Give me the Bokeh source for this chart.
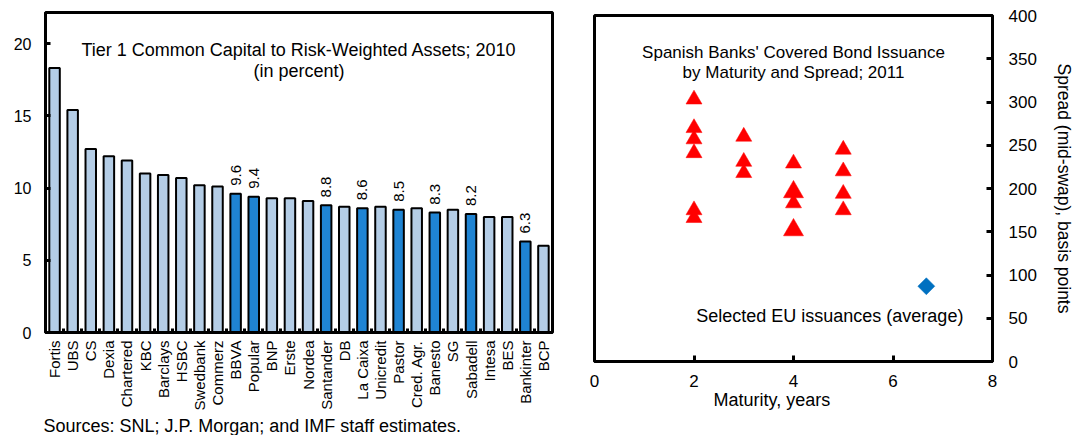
import math
from bokeh.plotting import figure
from bokeh.layouts import row, column
from bokeh.models import FixedTicker, Label, Range1d, ColumnDataSource, Title
from bokeh.embed import file_html
from bokeh.resources import INLINE
from bokeh.core.properties import value

# ---------------- data ----------------
banks = ["Fortis", "UBS", "CS", "Dexia", "Chartered", "KBC", "Barclays", "HSBC",
         "Swedbank", "Commerz", "BBVA", "Popular", "BNP", "Erste", "Nordea",
         "Santander", "DB", "La Caixa", "Unicredit", "Pastor", "Cred. Agr.",
         "Banesto", "SG", "Sabadell", "Intesa", "BES", "Bankinter", "BCP"]
tier1 = [18.3, 15.4, 12.7, 12.2, 11.9, 11.0, 10.9, 10.7,
         10.2, 10.1, 9.6, 9.4, 9.3, 9.3, 9.1,
         8.8, 8.7, 8.6, 8.7, 8.5, 8.6,
         8.3, 8.5, 8.2, 8.0, 8.0, 6.3, 6.0]
spanish_banks = ["BBVA", "Popular", "Santander", "La Caixa", "Pastor",
                 "Banesto", "Sabadell", "Bankinter"]
left_yticks = [0, 5, 10, 15, 20]

# Spanish covered bond issuance: maturity (years) and spread (bp)
issue_maturity = [2, 2, 2, 2, 2, 2, 3, 3, 3, 4, 4, 5, 5, 5, 5]
issue_spread = [303, 270, 257, 241, 175, 166, 260, 231, 218, 229, 183, 245, 220, 194, 175]
large_issue_maturity = [4, 4]
large_issue_spread = [196, 152]
eu_maturity = [6.67]
eu_spread = [87]
right_xticks = [0, 2, 4, 6, 8]
right_yticks = [0, 50, 100, 150, 200, 250, 300, 350, 400]

FONT = "Liberation Sans"
LIGHT = "#b4cde6"
DARK = "#1f84d3"

# ---------------- left chart ----------------
n = len(banks)
xc = [i + 0.5 for i in range(n)]
colors = [DARK if b in spanish_banks else LIGHT for b in banks]
src = ColumnDataSource(dict(x=xc, top=tier1, color=colors))

p1 = figure(width=570, height=435, x_range=Range1d(0, n), y_range=Range1d(0, 22.15),
            output_backend="svg", toolbar_location=None,
            min_border_left=45, min_border_right=18, min_border_top=12, min_border_bottom=103)
p1.xgrid.visible = False
p1.ygrid.visible = False
p1.outline_line_color = "black"
p1.outline_line_width = 3
p1.outline_line_alpha = 1

p1.vbar(x="x", top="top", bottom=0, width=0.58, fill_color="color",
        line_color="black", line_width=2, source=src)

sp_x = [xc[i] for i, b in enumerate(banks) if b in spanish_banks]
sp_v = [tier1[i] for i, b in enumerate(banks) if b in spanish_banks]
p1.text(x=sp_x, y=[v + 0.55 for v in sp_v], text=[f"{v:.1f}" for v in sp_v],
        angle=math.pi / 2, text_align="left", text_baseline="middle",
        text_font=value(FONT), text_font_size="15px", text_color="black")

ya = p1.yaxis[0]
ya.ticker = FixedTicker(ticks=left_yticks)
ya.major_tick_in = 5
ya.major_tick_out = 0
ya.major_tick_line_width = 3
ya.minor_tick_line_color = None
ya.axis_line_width = 3
ya.major_label_standoff = 14
ya.major_label_text_font = FONT
ya.major_label_text_font_size = "16px"
ya.major_label_text_color = "black"

xa = p1.xaxis[0]
xa.ticker = FixedTicker(ticks=xc, minor_ticks=list(range(1, n)))
xa.major_label_overrides = {x: b for x, b in zip(xc, banks)}
xa.major_label_orientation = math.pi / 2
xa.major_tick_line_color = None
xa.major_tick_in = 0
xa.major_tick_out = 0
xa.minor_tick_in = 4
xa.minor_tick_out = 0
xa.minor_tick_line_width = 3
xa.minor_tick_line_color = "black"
xa.axis_line_width = 3
xa.major_label_standoff = 8
xa.major_label_text_font = FONT
xa.major_label_text_font_size = "15px"
xa.major_label_text_color = "black"

p1.add_layout(Label(x=n / 2, y=19.52, text="Tier 1 Common Capital to Risk-Weighted Assets; 2010",
                    text_align="center", text_baseline="alphabetic",
                    text_font=FONT, text_font_size="18px", text_color="black"))
p1.add_layout(Label(x=n / 2, y=18.1, text="(in percent)",
                    text_align="center", text_baseline="alphabetic",
                    text_font=FONT, text_font_size="18px", text_color="black"))
p1.add_layout(Title(text="Sources: SNL; J.P. Morgan; and IMF staff estimates.",
                    align="left", offset=-2, standoff=0, vertical_align="bottom",
                    text_font=FONT, text_font_size="18px", text_font_style="normal",
                    text_color="black"), "below")

# ---------------- right chart ----------------
p2 = figure(width=506, height=435, x_range=Range1d(0, 8), y_range=Range1d(0, 400),
            y_axis_location="right", output_backend="svg", toolbar_location=None,
            min_border_left=24, min_border_right=80, min_border_top=15, min_border_bottom=74)
p2.xgrid.visible = False
p2.ygrid.visible = False
p2.outline_line_color = "black"
p2.outline_line_width = 3
p2.outline_line_alpha = 1

p2.scatter(x=issue_maturity, y=issue_spread, marker="triangle", size=16,
           fill_color="#ff0000", line_color="#ff0000", line_width=0.5)
p2.scatter(x=large_issue_maturity, y=large_issue_spread, marker="triangle", size=20,
           fill_color="#ff0000", line_color="#ff0000", line_width=0.5)
p2.scatter(x=eu_maturity, y=eu_spread, marker="square", size=12, angle=math.pi / 4,
           fill_color="#0070c0", line_color="#0070c0", line_width=0.5)

xb = p2.xaxis[0]
xb.ticker = FixedTicker(ticks=right_xticks)
xb.major_tick_in = 6
xb.major_tick_out = 0
xb.major_tick_line_width = 3
xb.minor_tick_line_color = None
xb.axis_line_width = 3
xb.major_label_standoff = 13
xb.major_label_text_font = FONT
xb.major_label_text_font_size = "17px"
xb.major_label_text_color = "black"

# x-axis title, placed left of centre as in the original
p2.add_layout(Title(text="Maturity, years", align="left", offset=119, standoff=0,
                    vertical_align="top",
                    text_font=FONT, text_font_size="18px", text_font_style="normal",
                    text_color="black"), "below")

yb = p2.yaxis[0]
yb.ticker = FixedTicker(ticks=right_yticks)
yb.major_tick_in = 6
yb.major_tick_out = 0
yb.major_tick_line_width = 3
yb.minor_tick_line_color = None
yb.axis_line_width = 3
yb.major_label_standoff = 16
yb.major_label_text_font = FONT
yb.major_label_text_font_size = "17px"
yb.major_label_text_color = "black"
yb.axis_label = "Spread (mid-swap), basis points"
yb.axis_label_standoff = 14
yb.axis_label_text_font = FONT
yb.axis_label_text_font_size = "17.5px"
yb.axis_label_text_font_style = "normal"
yb.axis_label_text_color = "black"

p2.add_layout(Label(x=4, y=357, text="Spanish Banks' Covered Bond Issuance",
                    text_align="center", text_baseline="alphabetic",
                    text_font=FONT, text_font_size="17px", text_color="black"))
p2.add_layout(Label(x=4, y=334, text="by Maturity and Spread; 2011",
                    text_align="center", text_baseline="alphabetic",
                    text_font=FONT, text_font_size="17px", text_color="black"))
p2.add_layout(Label(x=4.73, y=53, text="Selected EU issuances (average)",
                    text_align="center", text_baseline="alphabetic",
                    text_font=FONT, text_font_size="18px", text_color="black"))

layout = row(column(p1), column(p2), spacing=0)
open("out.html", "w").write(file_html(layout, INLINE))
